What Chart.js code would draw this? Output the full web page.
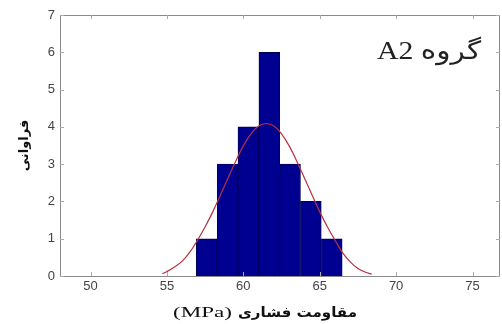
<!DOCTYPE html>
<html>
<head>
<meta charset="utf-8">
<script src="https://cdn.jsdelivr.net/npm/chart.js@4/dist/chart.umd.min.js"></script>
<style>
html,body{margin:0;padding:0;background:#fff;}
#wrap{width:502px;height:324px;}
</style>
</head>
<body>
<div id="wrap"><canvas id="c" width="502" height="324"></canvas></div>
<script>
// ---- data ----
const binCenters = [57.6, 58.97, 60.33, 61.7, 63.06, 64.42, 65.79];
const binCounts  = [1, 3, 4, 6, 3, 2, 1];
const fitX = [54.7, 55, 55.5, 56, 56.5, 57, 57.5, 58, 58.5, 59, 59.5, 60, 60.5, 61, 61.5, 62, 62.5, 63, 63.5, 64, 64.5, 65, 65.5, 66, 66.5, 67, 67.5, 68, 68.4];
const fitY = [0.06, 0.12, 0.24, 0.40, 0.64, 0.96, 1.32, 1.72, 2.17, 2.63, 3.08, 3.49, 3.81, 4.02, 4.09, 4.02, 3.81, 3.49, 3.08, 2.63, 2.17, 1.72, 1.32, 0.96, 0.62, 0.38, 0.20, 0.10, 0.05];
const xTicks = [50, 55, 60, 65, 70, 75];
const yTicks = [0, 1, 2, 3, 4, 5, 6, 7];
const xTitleFa = "مقاومت فشاری";
const xTitleUnit = "(MPa)";
const yTitle = "فراوانی";
const groupLabel = "گروه A2";

const axisGray = '#8a8a8a';

// draw text stretched horizontally to span [x0, x1]
function fitText(ctx, text, x0, x1, y) {
  const w = ctx.measureText(text).width;
  const sx = (x1 - x0) / w;
  ctx.save();
  ctx.translate(x0, y);
  ctx.scale(sx, 1);
  ctx.textAlign = 'left';
  ctx.fillText(text, 0, 0);
  ctx.restore();
}

const boxPlugin = {
  id: 'box',
  afterDatasetsDraw(chart) {
    const {ctx, chartArea: a, scales} = chart;
    ctx.save();
    ctx.strokeStyle = axisGray;
    ctx.lineWidth = 1;
    ctx.strokeRect(Math.round(a.left) + 0.5, Math.round(a.top) + 0.5, Math.round(a.right - a.left) - 1, Math.round(a.bottom - a.top));
    // inward ticks
    ctx.strokeStyle = '#aaaaaa';
    ctx.beginPath();
    xTicks.forEach(v => {
      const px = Math.round(scales.x.getPixelForValue(v)) + 0.5;
      ctx.moveTo(px, a.bottom); ctx.lineTo(px, a.bottom - 4);
      ctx.moveTo(px, a.top); ctx.lineTo(px, a.top + 4);
    });
    yTicks.forEach(v => {
      const py = Math.round(scales.y.getPixelForValue(v)) + 0.5;
      ctx.moveTo(a.left, py); ctx.lineTo(a.left + 4, py);
      ctx.moveTo(a.right, py); ctx.lineTo(a.right - 4, py);
    });
    ctx.stroke();
    ctx.textBaseline = 'alphabetic';
    // group annotation
    ctx.fillStyle = '#222';
    ctx.font = '25px "Liberation Serif", "DejaVu Sans", serif';
    ctx.direction = 'rtl';
    fitText(ctx, groupLabel, 377, 481, 59);
    // x axis title (MPa on the left, Persian on the right)
    ctx.direction = 'ltr';
    ctx.fillStyle = '#111';
    ctx.font = '15px "Liberation Serif", serif';
    fitText(ctx, xTitleUnit, 173, 232, 317);
    ctx.font = 'bold 14px "DejaVu Sans", sans-serif';
    ctx.direction = 'rtl';
    fitText(ctx, xTitleFa, 238, 357, 317);
    ctx.restore();
  }
};

new Chart(document.getElementById('c'), {
  type: 'bar',
  data: {
    datasets: [
      {
        type: 'line',
        data: fitX.map((x, i) => ({x: x, y: fitY[i]})),
        borderColor: '#b83040',
        borderWidth: 1.2,
        pointRadius: 0,
        tension: 0.3,
        fill: false,
        order: 0
      },
      {
        type: 'bar',
        data: binCenters.map((x, i) => ({x: x, y: binCounts[i]})),
        backgroundColor: '#000090',
        borderColor: '#000058',
        borderWidth: 1,
        barPercentage: 1,
        categoryPercentage: 1,
        order: 1
      }
    ]
  },
  options: {
    responsive: false,
    animation: false,
    devicePixelRatio: 1,
    layout: {padding: {top: 15, right: 2, left: 0, bottom: 0}},
    plugins: {legend: {display: false}, tooltip: {enabled: false}},
    scales: {
      x: {
        type: 'linear',
        offset: false,
        min: 48, max: 76.8,
        grid: {display: false, drawTicks: false, offset: false},
        border: {display: false},
        afterBuildTicks: s => { s.ticks = xTicks.map(v => ({value: v})); },
        afterFit: s => { s.height = 48; },
        ticks: {
          color: '#444',
          padding: 3,
          maxRotation: 0,
          font: {family: '"Liberation Sans", Arial, sans-serif', size: 13}
        },
        title: {display: false}
      },
      y: {
        min: 0, max: 7,
        grid: {display: false, drawTicks: false},
        border: {display: false},
        afterBuildTicks: s => { s.ticks = yTicks.map(v => ({value: v})); },
        afterFit: s => { s.width = 60; },
        ticks: {
          color: '#444',
          padding: 5,
          font: {family: '"Liberation Sans", Arial, sans-serif', size: 13}
        },
        title: {
          display: true,
          text: yTitle,
          color: '#111',
          padding: {top: 17, bottom: 0},
          font: {family: '"DejaVu Sans", sans-serif', size: 13, weight: 'bold'}
        }
      }
    }
  },
  plugins: [boxPlugin]
});
</script>
</body>
</html>
